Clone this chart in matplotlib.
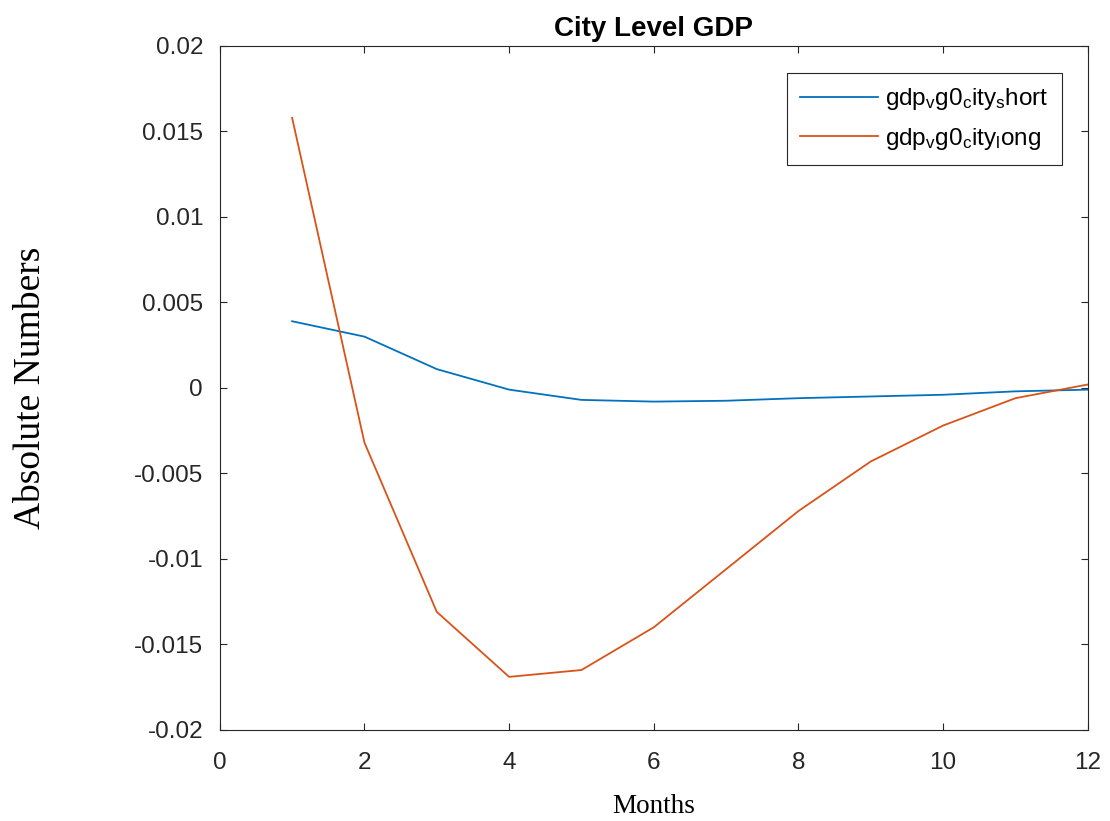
import matplotlib
matplotlib.use('Agg')

import numpy as np
import matplotlib.pyplot as plt

plt.rcParams['font.family'] = ['Liberation Sans', 'DejaVu Sans']
plt.rcParams['mathtext.default'] = 'regular'

# Impulse responses over 12 months
months = np.arange(1, 13)
gdp_short = [0.0039, 0.0030, 0.0011, -0.0001, -0.0007, -0.0008,
             -0.00075, -0.0006, -0.0005, -0.0004, -0.0002, -0.0001]
gdp_long = [0.0158, -0.0032, -0.0131, -0.0169, -0.0165, -0.0140,
            -0.0106, -0.0072, -0.0043, -0.0022, -0.0006, 0.0002]

fig = plt.figure(figsize=(11.1, 8.21), dpi=100)
ax = fig.add_axes([0.198, 0.111, 0.782, 0.833])

ax.plot(months, gdp_short, color='#0072BD', lw=1.3, label=r'gdp$_v$g0$_c$ity$_s$hort')
ax.plot(months, gdp_long, color='#D95319', lw=1.3, label=r'gdp$_v$g0$_c$ity$_l$ong')

ax.set_xlim(0, 12)
ax.set_ylim(-0.02, 0.02)
ax.set_xticks(np.arange(0, 13, 2))
ax.set_yticks(np.arange(-0.02, 0.0201, 0.005))
ax.set_yticklabels(['-0.02', '-0.015', '-0.01', '-0.005', '0',
                    '0.005', '0.01', '0.015', '0.02'])
ax.tick_params(direction='in', top=True, right=True, labelsize=17.5,
               length=5, width=0.8, colors='#262626')
ax.tick_params(axis='x', pad=16)
ax.tick_params(axis='y', pad=12)
for s in ax.spines.values():
    s.set_color('#262626')
    s.set_linewidth(0.8)

ax.set_title('City Level GDP', fontsize=20, fontweight='bold', pad=7)
ax.set_xlabel('Months', fontsize=19.5, family=['Liberation Serif'], labelpad=14)
ax.set_ylabel('Absolute Numbers', fontsize=27, family=['Liberation Serif'], labelpad=62)

leg = ax.legend(loc='upper right', bbox_to_anchor=(0.970, 0.9605), borderaxespad=0,
                fontsize=17.5, fancybox=False, framealpha=1, edgecolor='#262626',
                handlelength=3.2, handletextpad=0.3, labelspacing=0.55, borderpad=0.55)
leg.get_frame().set_linewidth(0.8)

fig.savefig('out.png', dpi=100)
